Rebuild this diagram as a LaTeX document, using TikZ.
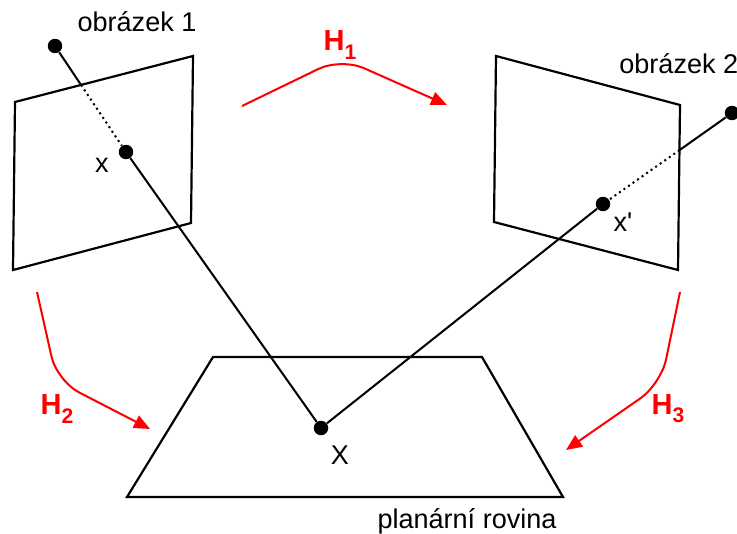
\documentclass[tikz,border=0pt]{standalone}
\usepackage{fontspec}
\setmainfont{Liberation Sans}
\usetikzlibrary{arrows.meta, calc}
\definecolor{hred}{HTML}{FF0000}
\definecolor{hdark}{HTML}{000000}
\newcommand{\hsub}[1]{\raisebox{-0.28em}{\fontsize{12}{12}\selectfont #1}}
\tikzset{
  pt/.style={circle, fill=hdark, inner sep=0pt, minimum size=0.29cm},
  ray/.style={line width=1.15pt, hdark},
  hidden/.style={line width=1.15pt, hdark, dotted},
  plane/.style={line width=1.25pt, hdark, line join=miter},
  homog/.style={-{Triangle[length=0.32cm, width=0.27cm]}, line width=1.15pt, hred, rounded corners=0.5cm},
  lbl/.style={font=\fontsize{15.4}{18}\selectfont, inner sep=0pt},
  hlbl/.style={font=\fontsize{16.5}{18}\selectfont\bfseries, text=hred, inner sep=0pt},
}

\begin{document}
\begin{tikzpicture}[x=0.02cm, y=-0.02cm]
    \useasboundingbox (0,0) rectangle (737,534);

    % image planes and the scene plane
    \coordinate (a1) at (15,102);  \coordinate (b1) at (193,56);
    \coordinate (c1) at (191,223); \coordinate (d1) at (13,270);
    \coordinate (a2) at (496,56);  \coordinate (b2) at (680,105);
    \coordinate (c2) at (678,270); \coordinate (d2) at (494,222);
    \draw[plane] (a1) -- (b1) -- (c1) -- (d1) -- cycle;
    \draw[plane] (a2) -- (b2) -- (c2) -- (d2) -- cycle;
    \draw[plane] (213,357) -- (482,357) -- (563,497) -- (127,497) -- cycle;

    % camera centres, projections, scene point
    \node[pt] (cam1) at (55,46) {};
    \node[pt] (cam2) at (732,113) {};
    \node[pt] (x1) at (126,152) {};
    \node[pt] (x2) at (603,204) {};
    \node[pt] (X) at (321,428) {};

    \coordinate (cut1) at (intersection of cam1--x1 and a1--b1);
    \coordinate (cut2) at (intersection of cam2--x2 and b2--c2);
    \draw[ray] (cam1) -- (cut1);
    \draw[hidden] (cut1) -- (x1);
    \draw[ray] (x1) -- (X);
    \draw[ray] (cam2) -- (cut2);
    \draw[hidden] (cut2) -- (x2);
    \draw[ray] (x2) -- (X);

    \node[lbl] (o1) at (137,22) {obrázek 1};
    \node[lbl, anchor=west] (o2) at (619,64) {obrázek 2};
    \node[lbl] (lx1) at (102,165) {x};
    \node[lbl] (lx2) at (623,222) {x\textquotesingle};
    \node[lbl] (lX) at (340,455) {X};
    \node[lbl] (pl) at (467,521) {planární rovina};

    % homographies
    \coordinate (h1s) at (242,106); \coordinate (h1e) at (447,105);
    \coordinate (h2s) at (37,292);  \coordinate (h2e) at (150,429);
    \coordinate (h3s) at (680,292); \coordinate (h3e) at (566,450);
    \draw[homog] (h1s) -- (341,58) -- (h1e);
    \draw[homog] (h2s) -- (57,381) -- (h2e);
    \draw[homog] (h3s) -- (661,384) -- (h3e);
    \node[hlbl] (H1) at (340,45) {H\hsub{1}};
    \node[hlbl] (H2) at (57,409) {H\hsub{2}};
    \node[hlbl] (H3) at (668,409) {H\hsub{3}};
\end{tikzpicture}
\end{document}
